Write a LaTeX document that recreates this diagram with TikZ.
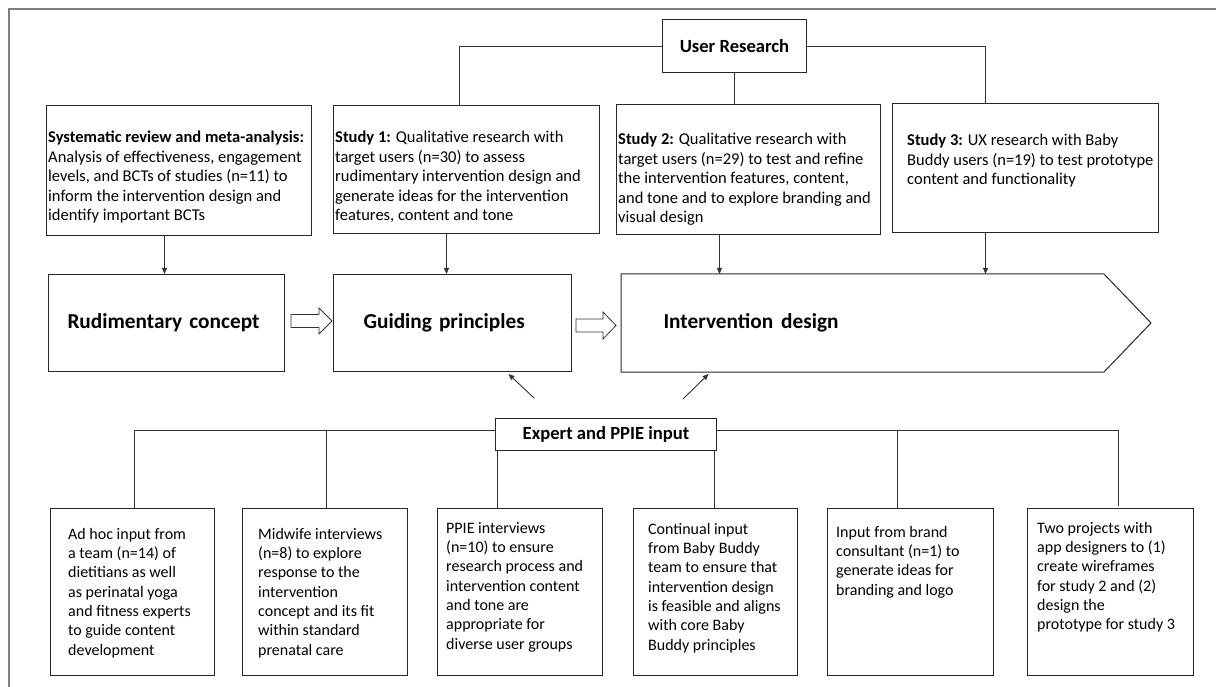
\documentclass[tikz,border=0pt]{standalone}
\usepackage{fontspec}
\setmainfont{Carlito}
\usetikzlibrary{calc,arrows.meta}
\begin{document}
\begin{tikzpicture}[x=1pt,y=-1pt,
  box/.style={draw=black!85, line width=1pt, inner sep=0pt, anchor=north west},
  txt/.style={inner sep=0pt, anchor=north west, align=left, font=\fontsize{16.5}{19.5}\selectfont},
  btxt/.style={inner sep=0pt, anchor=north west, align=left, font=\fontsize{16}{19.3}\selectfont},
  big/.style={box, align=left, font=\bfseries\fontsize{21.3}{25}\selectfont},
  head/.style={box, fill=white, font=\bfseries\fontsize{18.6}{22}\selectfont},
  conn/.style={draw=black!80, line width=0.9pt},
  arr/.style={conn, -{Triangle[length=6pt,width=5pt]}},
  hollow/.style={draw=black!80, line width=0.8pt, fill=white},
  frame/.style={draw=black!50, line width=2pt}]
\useasboundingbox (0,0) rectangle (1216,687);
\draw[frame] (9,687) -- (9,9) -- (1216,9);

% top row
\node[head, minimum width=144pt, minimum height=53pt] (ur) at (662,19) {User Research};
\node[box, minimum width=265pt, minimum height=130pt] (sr) at (46,105) {};
\node[box, minimum width=266pt, minimum height=128pt] (s1) at (333,105) {};
\node[box, minimum width=264pt, minimum height=130pt] (s2) at (616,104) {};
\node[box, minimum width=266pt, minimum height=129pt] (s3) at (892,103) {};
\node[txt] (srt) at (48,131) {\textbf{Systematic review and meta-analysis:}\\ Analysis of effectiveness, engagement\\ levels, and BCTs of studies (n=11) to\\ inform the intervention design and\\ identify important BCTs};
\node[txt] (s1t) at (335,131) {\textbf{Study 1:} Qualitative research with\\ target users (n=30) to assess\\ rudimentary intervention design and\\ generate ideas for the intervention\\ features, content and tone};
\node[txt] (s2t) at (618,133) {\textbf{Study 2:} Qualitative research with\\ target users (n=29) to test and refine\\ the intervention features, content,\\ and tone and to explore branding and\\ visual design};
\node[txt] (s3t) at (907,134) {\textbf{Study 3:} UX research with Baby\\ Buddy users (n=19) to test prototype\\ content and functionality};

\draw[conn] (ur.west) -| ([xshift=-7pt]s1.north);
\draw[conn] (ur.east) -| ([xshift=-40pt]s3.north);
\draw[conn] (ur.south) -- (ur.south |- s2.north);

% middle row
\node[big, minimum width=236pt, minimum height=97pt, text width=198pt, inner xsep=19pt] (rc) at (48,274) {Rudimentary concept};
\node[big, minimum width=238pt, minimum height=97pt, text width=178pt, inner xsep=30pt] (gp) at (333,274) {Guiding principles};
\node[big, draw=none, minimum width=482pt, minimum height=97pt, text width=398pt, inner xsep=42pt] (id) at (621,274) {Intervention\hspace{8pt}design};
\draw[draw=black!85, line width=1pt] (id.north west) -- (id.north east) -- ($(id.east)+(47,0)$) -- (id.south east) -- (id.south west) -- cycle;

\path ([xshift=-14.5pt]sr.south) coordinate (t1)
      ([xshift=-20pt]s1.south) coordinate (t2)
      ([xshift=-29pt]s2.south) coordinate (t3)
      ([xshift=-40pt]s3.south) coordinate (t4);
\draw[arr] (t1) -- (t1 |- rc.north);
\draw[arr] (t2) -- (t2 |- gp.north);
\draw[arr] (t3) -- (t3 |- id.north);
\draw[arr] (t4) -- (t4 |- id.north);

\draw[hollow] ($(rc.east)+(6,-8.5)$) -- ($(rc.east)+(34,-8.5)$) -- ($(rc.east)+(34,-15)$) -- ($(rc.east)+(47,-2)$) -- ($(rc.east)+(34,11)$) -- ($(rc.east)+(34,4.5)$) -- ($(rc.east)+(6,4.5)$) -- cycle;
\draw[hollow] ($(gp.east)+(4,-4)$) -- ($(gp.east)+(31,-4)$) -- ($(gp.east)+(31,-11)$) -- ($(gp.east)+(44,2.5)$) -- ($(gp.east)+(31,16)$) -- ($(gp.east)+(31,9)$) -- ($(gp.east)+(4,9)$) -- cycle;

% expert input
\node[head, minimum width=221pt, minimum height=32pt] (en) at (495,418) {Expert and PPIE input};
\coordinate (d1s) at (534,398);
\coordinate (d2s) at (683,399);
\draw[arr] (d1s) -- ([shift={(56,2)}]gp.south);
\draw[arr] (d2s) -- ([shift={(-154,2)}]id.south);

\node[box, minimum width=164pt, minimum height=167pt] (e1) at (50,508) {};
\node[box, minimum width=165pt, minimum height=167pt] (e2) at (242,508) {};
\node[box, minimum width=165pt, minimum height=167pt] (e3) at (437,508) {};
\node[box, minimum width=164pt, minimum height=167pt] (e4) at (633,508) {};
\node[box, minimum width=166pt, minimum height=167pt] (e5) at (827,508) {};
\node[box, minimum width=166pt, minimum height=167pt] (e6) at (1027,508) {};

\node[btxt] (e1t) at (68,528) {Ad hoc input from\\ a team (n=14) of\\ dietitians as well\\ as perinatal yoga\\ and fitness experts\\ to guide content\\ development};
\node[btxt] (e2t) at (258,528) {Midwife interviews\\ (n=8) to explore\\ response to the\\ intervention\\ concept and its fit\\ within standard\\ prenatal care};
\node[btxt] (e3t) at (446,522) {PPIE interviews\\ (n=10) to ensure\\ research process and\\ intervention content\\ and tone are\\ appropriate for\\ diverse user groups};
\node[btxt] (e4t) at (648,523) {Continual input\\ from Baby Buddy\\ team to ensure that\\ intervention design\\ is feasible and aligns\\ with core Baby\\ Buddy principles};
\node[btxt] (e5t) at (836,526) {Input from brand\\ consultant (n=1) to\\ generate ideas for\\ branding and logo};
\node[btxt] (e6t) at (1037,522) {Two projects with\\ app designers to (1)\\ create wireframes\\ for study 2 and (2)\\ design the\\ prototype for study 3};

\coordinate (bus) at (0,430);
\path ([xshift=2pt]e1.north) coordinate (p1)
      ([xshift=1.5pt]e2.north) coordinate (p2)
      ([xshift=-13pt]e5.north) coordinate (p5)
      ([xshift=8pt]e6.north) coordinate (p6);
\draw[conn] (p1) -- (p1 |- bus) -- (en.west |- bus);
\draw[conn] (en.east |- bus) -- (p6 |- bus) -- ([yshift=2pt]p6);
\draw[conn] (p2) -- (p2 |- bus);
\draw[conn] (p5) -- (p5 |- bus);
\draw[conn] ([xshift=-108.5pt]en.south) coordinate (q3) -- (q3 |- e3.north);
\draw[conn] ([xshift=108.5pt]en.south) coordinate (q4) -- (q4 |- e4.north);
\end{tikzpicture}
\end{document}
